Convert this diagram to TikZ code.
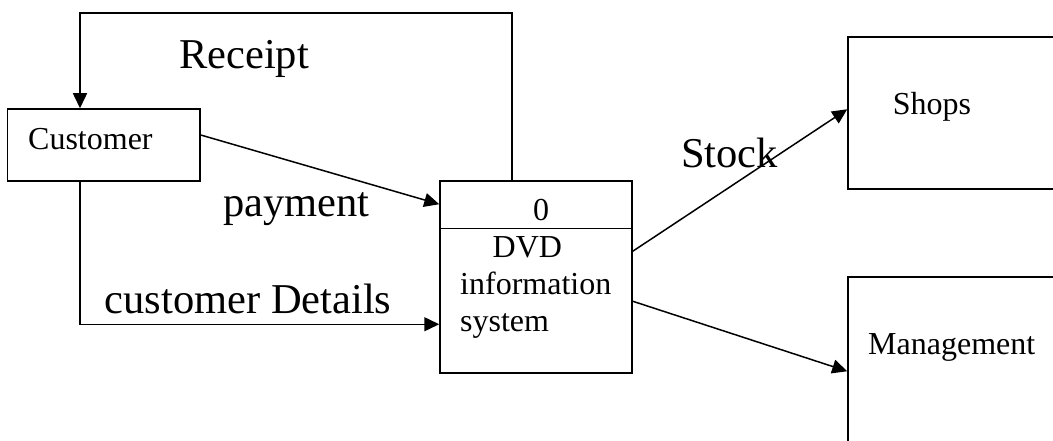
\documentclass[tikz,border=0pt]{standalone}
\usepackage{fontspec}
\setmainfont{Liberation Serif}
\usetikzlibrary{arrows.meta,calc}
\begin{document}
\begin{tikzpicture}[x=1pt,y=-1pt,
  box/.style={draw,line width=1.5pt,rectangle,inner sep=0pt},
  arr/.style={line width=1.5pt,-{Triangle[length=15pt,width=14pt]}},
  small/.style={inner sep=0pt,anchor=base west,font=\fontsize{32}{37}\selectfont},
  big/.style={inner sep=0pt,anchor=base west,font=\fontsize{42.5}{48}\selectfont}]
\path[use as bounding box] (0,0) rectangle (1053,441);
\clip (0,0) rectangle (1053,441);
\fill[white] (0,0) rectangle (1053,441);
% boxes
\node[box,minimum width=192.5pt,minimum height=72pt] (cust) at (103.75,145) {};
\node[box,minimum width=192pt,minimum height=192pt] (proc) at (536,277) {};
\node[box,minimum width=260pt,minimum height=152pt] (shops) at (978,113) {};
\node[box,minimum width=260pt,minimum height=223pt] (mgmt) at (978,388.5) {};
\coordinate (divl) at ($(proc.north west)+(0,48)$);
\coordinate (divr) at ($(proc.north east)+(0,48)$);
\draw[line width=1.5pt] (divl) -- (divr);
% texts
\node[small] (tcust) at (28,150) {Customer};
\node[small] (tzero) at (533,220) {0};
\node[small] (tdvd) at (492.5,257) {DVD};
\node[small] (tinfo) at (460,294) {information};
\node[small] (tsys) at (460,331) {system};
\node[small] (tshops) at (892.7,115) {Shops};
\node[small] (tmgmt) at (868,354) {Management};
\node[big] (trec) at (179,69) {Receipt};
\node[big] (tpay) at (223,217) {payment};
\node[big] (tdet) at (104.5,313) {customer Details};
\node[big] (tstock) at (681,167.7) {Stock};
% connectors
\coordinate (rc) at (512,13);
\coordinate (lc) at (80,13);
\draw[arr] (proc.north -| rc) -- (rc) -- (lc) -- (cust.north -| lc);
\draw[arr] ($(cust.east)+(0,-10)$) -- ($(proc.north west)+(0,24)$);
\draw[arr] (cust.south -| lc) |- ($(proc.north west)+(0,144)$);
\draw[arr] ($(proc.north east)+(0,71)$) -- ($(shops.north west)+(0,73)$);
\draw[arr] ($(proc.north east)+(0,121)$) -- ($(mgmt.north west)+(0,95)$);
\end{tikzpicture}
\end{document}
